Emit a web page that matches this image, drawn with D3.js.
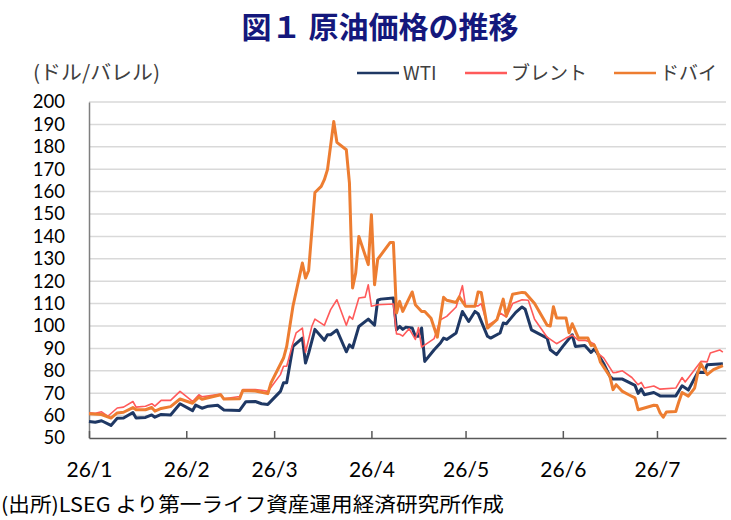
<!DOCTYPE html>
<html>
<head>
<meta charset="utf-8">
<script src="https://cdn.jsdelivr.net/npm/d3@7"></script>
<style>
  body { margin: 0; background: #fff; }
  text { font-family: Lato, "Noto Sans CJK JP", sans-serif; }
</style>
</head>
<body>
<svg id="chart" width="731" height="520"></svg>
<script>
// y ticks and month ticks
var yTicks = [50, 60, 70, 80, 90, 100, 110, 120, 130, 140, 150, 160, 170, 180, 190, 200];
var monthTicks = ["01-01", "02-01", "03-01", "04-01", "05-01", "06-01", "07-01"];
var monthLabels = ["26/1", "26/2", "26/3", "26/4", "26/5", "26/6", "26/7"];
var seriesNames = ["WTI", "ブレント", "ドバイ"];

// values (date MM-DD, $/bbl)
var wti = [
  ["01-01",57.4],["01-03",57.0],["01-05",57.7],["01-08",55.6],["01-10",58.8],["01-12",58.9],
  ["01-15",61.4],["01-16",58.9],["01-19",59.2],["01-21",60.3],["01-22",59.3],["01-24",60.5],
  ["01-27",60.3],["01-30",65.3],["02-03",62.2],["02-04",64.7],["02-06",63.3],["02-08",64.2],
  ["02-11",64.6],["02-13",62.5],["02-18",62.3],["02-20",66.2],["02-23",66.3],["02-25",65.3],
  ["02-27",65.0],["03-03",70.8],["03-04",74.7],["03-05",74.7],["03-07",90.9],["03-10",94.6],
  ["03-11",83.5],["03-12",87.9],["03-14",98.5],["03-17",93.6],["03-18",96.1],["03-19",96.1],
  ["03-21",98.2],["03-24",88.5],["03-25",91.6],["03-26",90.3],["03-28",99.8],["03-31",103.1],
  ["04-02",100.4],["04-03",111.5],["04-04",112.0],["04-08",112.5],["04-09",98.3],["04-10",99.8],
  ["04-11",98.5],["04-12",99.5],["04-14",99.1],["04-15",95.4],["04-16",95.4],["04-17",99.1],
  ["04-18",84.2],["04-21",89.4],["04-23",92.4],["04-24",94.6],["04-25",94.0],["04-28",96.9],
  ["04-30",106.5],["05-02",102.0],["05-04",106.5],["05-05",105.5],["05-08",95.4],["05-09",94.6],
  ["05-12",96.9],["05-13",101.3],["05-14",101.0],["05-17",106.1],["05-19",108.5],["05-20",107.5],
  ["05-22",98.3],["05-27",94.6],["05-28",89.4],["05-30",87.2],["06-01",90.9],["06-04",96.1],
  ["06-05",90.9],["06-08",91.3],["06-10",88.2],["06-11",89.7],["06-12",87.9],["06-14",83.3],
  ["06-16",77.5],["06-17",76.3],["06-20",76.3],["06-24",73.5],["06-25",69.9],["06-26",71.9],
  ["06-27",69.3],["06-30",70.3],["07-02",68.8],["07-07",68.8],["07-09",73.3],["07-11",71.4],
  ["07-14",79.3],["07-16",79.2],["07-17",82.7],["07-22",83.2]
];
var brent = [
  ["01-01",61.2],["01-03",61.0],["01-05",61.7],["01-07",59.7],["01-10",63.4],["01-12",63.8],
  ["01-15",66.3],["01-16",63.8],["01-19",64.2],["01-21",65.3],["01-22",64.2],["01-24",66.8],
  ["01-27",66.8],["01-30",70.8],["02-03",66.3],["02-05",69.3],["02-06",68.4],["02-12",69.6],
  ["02-13",67.5],["02-18",68.5],["02-19",71.6],["02-23",71.6],["02-25",71.3],["02-27",70.8],
  ["03-03",78.3],["03-04",82.0],["03-05",82.0],["03-07",92.4],["03-08",96.9],["03-10",99.1],
  ["03-11",88.3],["03-13",99.8],["03-14",103.1],["03-17",100.3],["03-19",107.3],["03-21",111.7],
  ["03-24",100.3],["03-25",104.3],["03-26",103.0],["03-28",112.5],["03-30",112.9],["03-31",118.4],
  ["04-01",108.8],["04-03",109.5],["04-08",109.8],["04-09",96.5],["04-10",96.3],["04-11",95.5],
  ["04-13",98.8],["04-15",94.0],["04-16",99.3],["04-17",90.6],["04-21",94.4],["04-23",102.8],
  ["04-25",104.3],["04-28",108.5],["04-30",118.0],["05-01",109.0],["05-05",109.0],["05-06",110.0],
  ["05-08",100.2],["05-11",102.8],["05-12",105.8],["05-14",104.0],["05-16",110.0],["05-19",111.7],
  ["05-21",111.5],["05-23",103.0],["05-27",95.0],["05-30",92.1],["06-02",94.6],["06-04",95.9],
  ["06-06",93.6],["06-08",93.6],["06-10",92.7],["06-11",92.0],["06-12",88.0],["06-14",85.8],
  ["06-17",79.2],["06-18",79.3],["06-20",80.0],["06-23",77.0],["06-25",73.8],["06-26",74.8],
  ["06-27",72.3],["06-30",73.2],["07-02",71.8],["07-07",72.3],["07-09",77.0],["07-10",75.0],
  ["07-15",84.2],["07-17",84.0],["07-18",87.9],["07-21",89.3],["07-22",88.3]
];
var dubai = [
  ["01-01",60.8],["01-05",60.5],["01-08",58.9],["01-10",61.2],["01-12",61.5],["01-15",63.6],
  ["01-16",62.6],["01-19",62.6],["01-21",63.6],["01-22",62.0],["01-24",63.2],["01-27",64.0],
  ["01-30",67.4],["02-03",65.5],["02-05",68.2],["02-06",67.3],["02-12",69.3],["02-13",67.4],
  ["02-18",67.5],["02-19",71.2],["02-23",71.0],["02-27",69.8],["02-28",74.6],["03-04",85.7],
  ["03-05",90.9],["03-07",108.8],["03-10",128.1],["03-11",121.4],["03-12",124.8],["03-14",159.6],
  ["03-16",162.3],["03-17",165.3],["03-18",169.8],["03-20",191.3],["03-21",182.0],["03-24",178.7],
  ["03-25",163.8],["03-26",117.0],["03-27",123.7],["03-28",140.0],["03-31",127.4],["04-01",149.7],
  ["04-02",118.4],["04-03",129.8],["04-07",137.3],["04-08",137.3],["04-09",105.8],["04-10",111.0],
  ["04-11",106.5],["04-14",115.2],["04-15",109.5],["04-17",106.5],["04-18",106.5],["04-20",103.5],
  ["04-22",95.0],["04-24",112.8],["04-25",111.5],["04-28",110.5],["04-29",113.0],["05-01",108.8],
  ["05-04",108.8],["05-05",115.2],["05-06",115.0],["05-08",99.1],["05-11",102.8],["05-13",112.0],
  ["05-14",104.5],["05-16",114.2],["05-19",115.0],["05-20",114.8],["05-23",110.0],["05-27",100.3],
  ["05-28",100.0],["05-29",108.6],["05-30",103.6],["06-02",103.6],["06-03",97.0],["06-04",101.0],
  ["06-06",94.6],["06-09",94.6],["06-10",91.3],["06-11",91.5],["06-12",88.5],["06-13",83.8],
  ["06-16",77.5],["06-17",71.6],["06-18",73.8],["06-20",70.8],["06-22",69.3],["06-24",67.9],
  ["06-25",62.6],["06-27",63.4],["06-30",64.6],["07-01",64.5],["07-02",61.2],["07-03",59.3],
  ["07-04",61.6],["07-07",61.8],["07-08",66.3],["07-09",70.3],["07-11",68.7],["07-13",72.3],
  ["07-14",79.0],["07-15",83.2],["07-17",78.3],["07-19",80.5],["07-22",82.3]
];

var colors = ["#1f3864", "#ff5a5a", "#ed7d31"];
var widths = [3, 1.6, 3];

var parse = d3.timeParse("%Y-%m-%d");
function toDate(s) { return parse("2026-" + s); }

var svg = d3.select("#chart");

var x = d3.scaleTime()
  .domain([toDate("01-01"), toDate("07-23")])
  .range([89, 726]);
var y = d3.scaleLinear()
  .domain([50, 200])
  .range([438, 102]);

// title
svg.append("text")
  .attr("x", 380).attr("y", 38)
  .attr("text-anchor", "middle")
  .style("font-family", "'Noto Sans CJK JP', sans-serif")
  .style("font-weight", "700")
  .style("font-size", "30px")
  .style("fill", "#14187c")
  .text("図１ 原油価格の推移");

// unit label
svg.append("text")
  .attr("x", 33).attr("y", 80)
  .attr("textLength", 127).attr("lengthAdjust", "spacingAndGlyphs")
  .style("font-family", "'Noto Sans CJK JP', sans-serif")
  .style("font-size", "20px")
  .style("fill", "#404040")
  .text("(ドル/バレル)");

// gridlines
svg.append("g").selectAll("line")
  .data(yTicks.slice(1))
  .enter().append("line")
  .attr("x1", 89).attr("x2", 726)
  .attr("y1", function (d) { return y(d); })
  .attr("y2", function (d) { return y(d); })
  .style("stroke", "#d9d9d9")
  .style("stroke-width", 1.5);

// y axis
var yAxis = svg.append("g")
  .attr("transform", "translate(89,0)")
  .call(d3.axisLeft(y).tickValues(yTicks).tickSize(0).tickPadding(24));
yAxis.select(".domain").style("stroke", "#7f7f7f").style("stroke-width", 1.5);
yAxis.selectAll("text").style("font-size", "18.5px").style("fill", "#000")
  .style("font-family", "Lato, sans-serif");

// x axis
var xAxis = svg.append("g")
  .attr("transform", "translate(0,438)")
  .call(d3.axisBottom(x)
    .tickValues(monthTicks.map(toDate))
    .tickFormat(function (d, i) { return monthLabels[i]; })
    .tickSizeInner(-7).tickSizeOuter(0).tickPadding(24));
xAxis.select(".domain").style("stroke", "#595959").style("stroke-width", 1.5);
xAxis.selectAll(".tick line").style("stroke", "#595959").style("stroke-width", 1.5);
xAxis.selectAll("text").style("font-size", "21px").style("fill", "#000")
  .style("font-family", "Lato, sans-serif");

// lines
var line = d3.line()
  .x(function (d) { return x(toDate(d[0])); })
  .y(function (d) { return y(d[1]); });

[wti, brent, dubai].forEach(function (s, i) {
  svg.append("path")
    .datum(s)
    .attr("d", line)
    .style("fill", "none")
    .style("stroke", colors[i])
    .style("stroke-width", widths[i])
    .style("stroke-linejoin", "round");
});

// legend
var legendX = [357, 465, 614];
var legend = svg.append("g");
seriesNames.forEach(function (name, i) {
  legend.append("line")
    .attr("x1", legendX[i]).attr("x2", legendX[i] + 42)
    .attr("y1", 73).attr("y2", 73)
    .style("stroke", colors[i])
    .style("stroke-width", 2.5);
  legend.append("text")
    .attr("x", legendX[i] + 46).attr("y", 80)
    .style("font-family", "'Noto Sans CJK JP', sans-serif")
    .style("font-size", "19px")
    .style("fill", "#404040")
    .text(name);
});

// source
svg.append("text")
  .attr("x", 1).attr("y", 512)
  .attr("textLength", 503).attr("lengthAdjust", "spacingAndGlyphs")
  .style("font-family", "'Noto Sans CJK JP', sans-serif")
  .style("font-size", "20px")
  .style("fill", "#000")
  .text("(出所)LSEG より第一ライフ資産運用経済研究所作成");
</script>
</body>
</html>
